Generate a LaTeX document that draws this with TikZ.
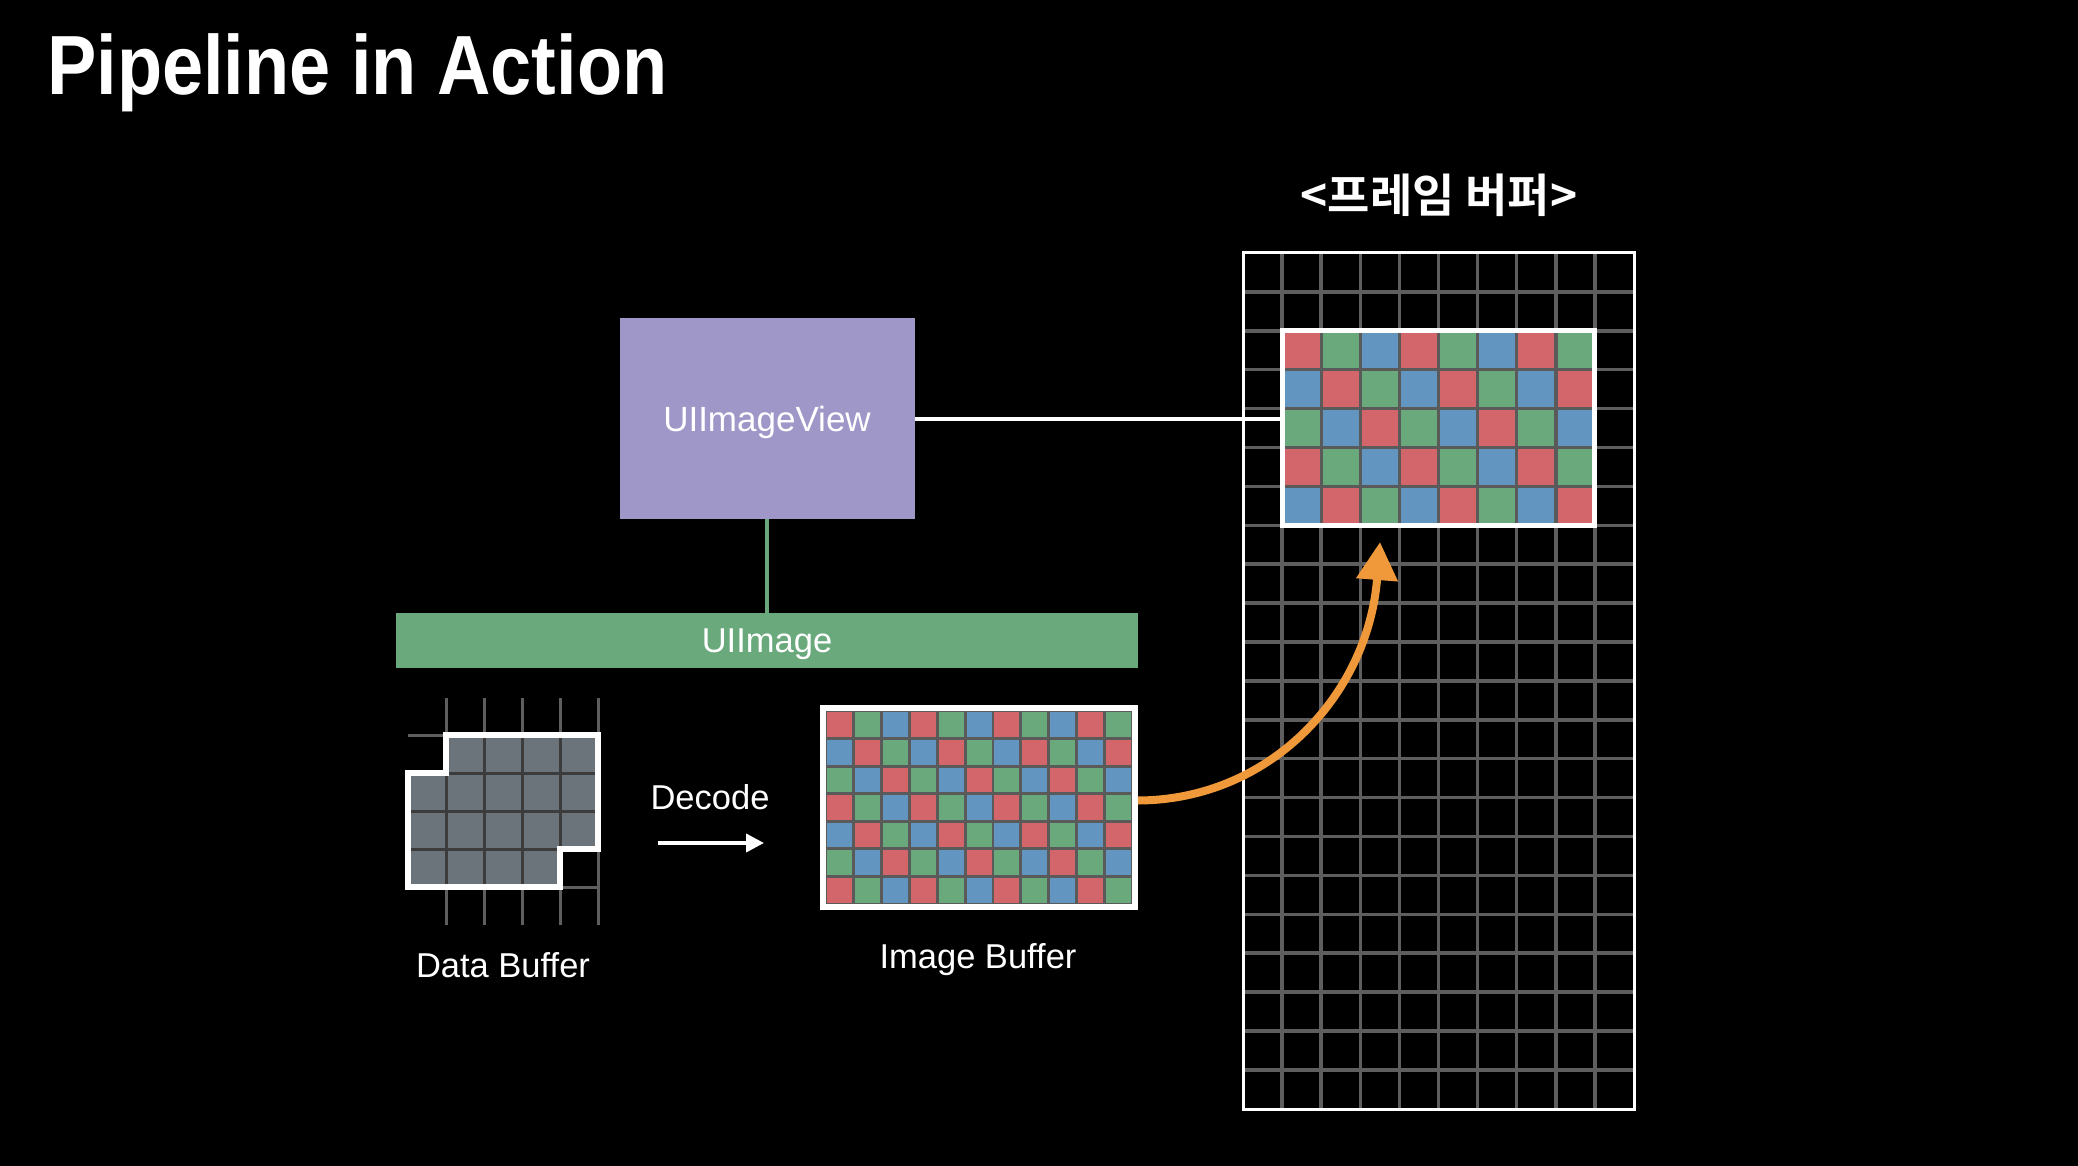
\documentclass[tikz,border=0pt]{standalone}
\usepackage{fontspec}
\setmainfont{Liberation Sans}
\newfontfamily\ttlfont[FakeStretch=0.88]{Liberation Sans Bold}
\newfontfamily\krfont[BoldFont={Noto Sans CJK KR Bold}]{Noto Sans CJK KR}
\usetikzlibrary{arrows.meta,calc}
\definecolor{c0}{HTML}{D3666B}
\definecolor{c1}{HTML}{6AA97C}
\definecolor{c2}{HTML}{6295BF}
\definecolor{lav}{HTML}{9E97C7}
\definecolor{gridgray}{HTML}{5E5E5E}
\definecolor{gapgray}{HTML}{5A5A5A}
\definecolor{slate}{HTML}{6B737B}
\definecolor{darkline}{HTML}{3C3C3C}
\definecolor{orng}{HTML}{F0993A}
\begin{document}
\begin{tikzpicture}[x=1pt,y=-1pt,
  lbl/.style={text=white,font=\fontsize{34.5}{40}\selectfont,inner sep=0pt},
  boxnode/.style={inner sep=0pt,outer sep=0pt,text depth=0pt,text=white,font=\fontsize{35}{40}\selectfont},
  whiteframe/.style={draw=white,inner sep=0pt},
  conn/.style={line width=4pt}
]
\fill[black] (0,0) rectangle (2078,1166);
\useasboundingbox (0,0) rectangle (2078,1166);

% Title
\node[anchor=base west,text=white,inner sep=0pt,font=\ttlfont\fontsize{84}{90}\selectfont] (title) at (47,95) {Pipeline in Action};

% Frame buffer label
\node[text=white,inner sep=0pt,font=\krfont\bfseries\fontsize{46}{52}\selectfont] (fblabel) at (1439,195) {<프레임 버퍼>};

% ---------------- Frame buffer grid
\def\fx{1243}\def\fy{253}\def\fcw{39.1}\def\fch{38.9}
\foreach \i in {1,...,9}{
  \draw[gridgray,line width=3.5pt] ({\fx+\i*\fcw},\fy) -- ({\fx+\i*\fcw},1109);
}
\foreach \j in {1,...,21}{
  \draw[gridgray,line width=3.5pt] (\fx,{\fy+\j*\fch}) -- (1634,{\fy+\j*\fch});
}
\node[whiteframe,line width=3pt,minimum width=391pt,minimum height=856pt] (fb) at (1438.5,681) {};

% frame image cells
\fill[gapgray] ({\fx+\fcw},{\fy+2*\fch}) rectangle ({\fx+9*\fcw},{\fy+7*\fch});
\foreach \r in {0,...,4}{
  \foreach \c in {0,...,7}{
    \pgfmathtruncatemacro\k{mod(\c-\r+30,3)}
    \fill[c\k] ({\fx+(\c+1)*\fcw+1.7},{\fy+(\r+2)*\fch+1.7}) rectangle ++({\fcw-3.4},{\fch-3.4});
  }
}
\node[whiteframe,line width=5pt,minimum width=312.8pt,minimum height=194.5pt] (fbimg) at (1438.5,428) {};

% ---------------- UIImageView and UIImage
\node[boxnode,fill=lav,minimum width=295pt,minimum height=201pt] (uiv) at (767,418.5) {UIImageView};
\node[boxnode,fill=c1,minimum width=742pt,minimum height=55pt,font=\fontsize{34.5}{40}\selectfont] (uimg) at (767,640.5) {UIImage};
\draw[conn,c1] (uiv.south) -- (uimg.north);
\draw[conn,white] (uiv.east) -- (uiv.east -| fbimg.west);

% ---------------- Data buffer
\foreach \x in {446,484,522,560,598}{
  \draw[gridgray,line width=3pt] (\x,698) -- (\x,925);
}
\draw[gridgray,line width=3pt] (408,735) -- (598,735);
\draw[gridgray,line width=3pt] (408,887) -- (598,887);
\fill[slate] (446,735) -- (598,735) -- (598,849) -- (560,849) -- (560,887) -- (408,887) -- (408,773) -- (446,773) -- cycle;
\begin{scope}
  \clip (446,735) -- (598,735) -- (598,849) -- (560,849) -- (560,887) -- (408,887) -- (408,773) -- (446,773) -- cycle;
  \foreach \x in {446,484,522,560}{ \draw[darkline,line width=3pt] (\x,735) -- (\x,887); }
  \foreach \y in {773,811,849}{ \draw[darkline,line width=3pt] (408,\y) -- (598,\y); }
\end{scope}
\draw[white,line width=5.5pt] (446,735) -- (598,735) -- (598,849) -- (560,849) -- (560,887) -- (408,887) -- (408,773) -- (446,773) -- cycle;
\node[lbl,anchor=base] (dblabel) at (503,977) {Data Buffer};

% ---------------- Decode
\node[lbl,anchor=base] (decode) at (710,809) {Decode};
\coordinate (d1) at (658,843);
\coordinate (d2) at (764,843);
\draw[white,line width=4pt,-{Triangle[length=18pt,width=18pt]}] (d1) -- (d2);

% ---------------- Image buffer
\def\ix{826}\def\iy{711}\def\icw{27.818}\def\ich{27.571}
\fill[gapgray] (\ix,\iy) rectangle (1132,904);
\foreach \r in {0,...,6}{
  \foreach \c in {0,...,10}{
    \pgfmathtruncatemacro\k{mod(\c-\r+30,3)}
    \fill[c\k] ({\ix+\c*\icw+1.4},{\iy+\r*\ich+1.4}) rectangle ++({\icw-2.8},{\ich-2.8});
  }
}
\node[whiteframe,line width=6pt,minimum width=312pt,minimum height=199pt] (imgbuf) at (979,807.5) {};
\node[lbl,anchor=base] (iblabel) at (978,968) {Image Buffer};

% ---------------- Orange arrow
\coordinate (tip) at (1380,542);
\draw[orng,line width=8pt,-{Triangle[length=38pt,width=40pt]}]
  ([yshift=7pt]imgbuf.east) .. controls (1270,800) and (1368,695) .. (tip);
\end{tikzpicture}
\end{document}
